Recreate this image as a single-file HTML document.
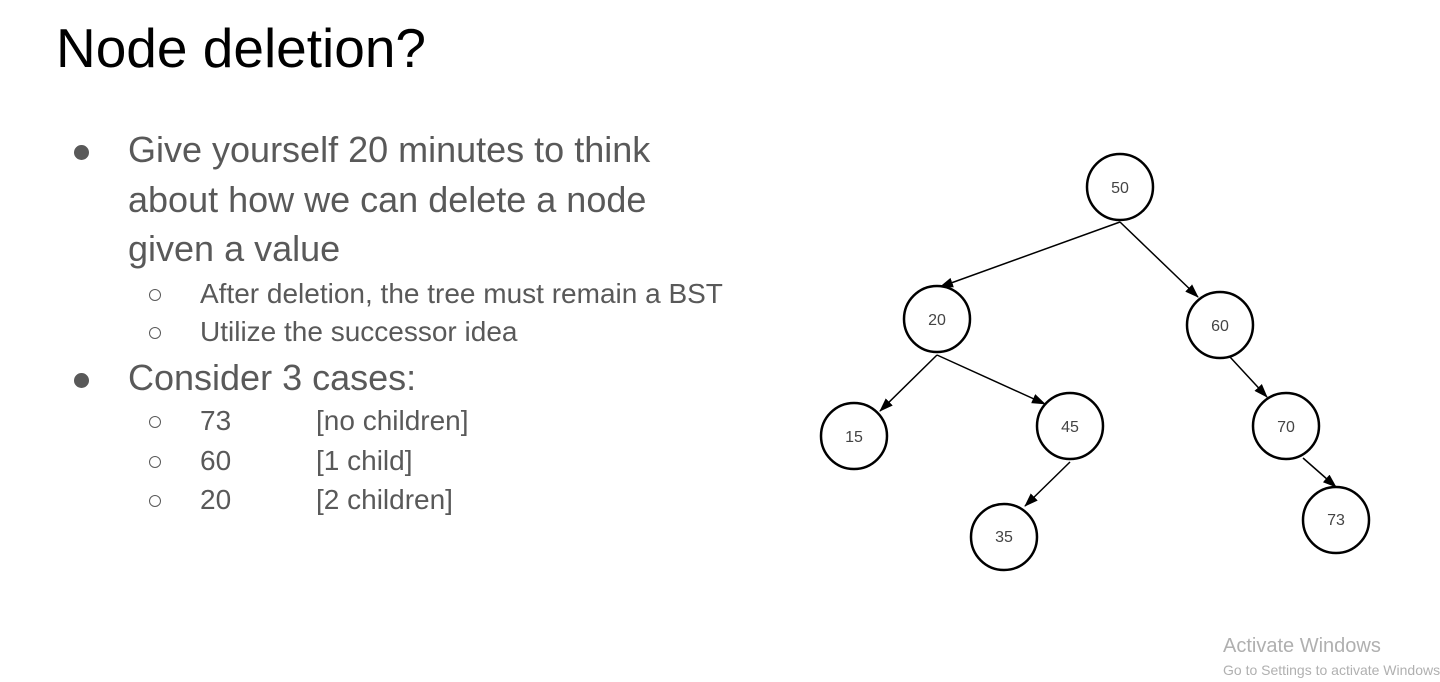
<!DOCTYPE html>
<html><head><style>
body{margin:0;width:1440px;height:682px;background:#fff;position:relative;overflow:hidden;font-family:"Liberation Sans",Arial,sans-serif}
.t{position:absolute;white-space:nowrap}
.h{left:56px;top:16px;font-size:55px;color:#000}
.b{font-size:36px;color:#595959}
.s{font-size:28px;color:#595959}
.dot{position:absolute;width:15px;height:15px;border-radius:50%;background:#595959}
.c{position:absolute;width:10px;height:10px;border-radius:50%;border:1.5px solid #595959}
</style></head><body>
<div class="t h">Node deletion?</div>
<div class="dot" style="left:74px;top:145px"></div>
<div class="t b" style="left:128px;top:129px">Give yourself 20 minutes to think</div>
<div class="t b" style="left:128px;top:179px">about how we can delete a node</div>
<div class="t b" style="left:128px;top:228px">given a value</div>
<div class="c" style="left:149px;top:289px"></div>
<div class="t s" style="left:200px;top:278px">After deletion, the tree must remain a BST</div>
<div class="c" style="left:149px;top:327px"></div>
<div class="t s" style="left:200px;top:316px">Utilize the successor idea</div>
<div class="dot" style="left:74px;top:373px"></div>
<div class="t b" style="left:128px;top:357px">Consider 3 cases:</div>
<div class="c" style="left:149px;top:416px"></div>
<div class="t s" style="left:200px;top:405px">73</div><div class="t s" style="left:316px;top:405px">[no children]</div>
<div class="c" style="left:149px;top:456px"></div>
<div class="t s" style="left:200px;top:445px">60</div><div class="t s" style="left:316px;top:445px">[1 child]</div>
<div class="c" style="left:149px;top:495px"></div>
<div class="t s" style="left:200px;top:484px">20</div><div class="t s" style="left:316px;top:484px">[2 children]</div>
<svg width="1440" height="682" style="position:absolute;left:0;top:0">
<defs><marker id="a" markerWidth="14" markerHeight="10" refX="13" refY="5" orient="auto" markerUnits="userSpaceOnUse"><path d="M0,0L14,5L0,10z" fill="#000"/></marker></defs>
<g stroke="#000" stroke-width="1.5" marker-end="url(#a)">
<line x1="1120" y1="222" x2="940" y2="287"/>
<line x1="1120" y1="222" x2="1198" y2="297"/>
<line x1="937" y1="355" x2="880" y2="411"/>
<line x1="937" y1="355" x2="1045" y2="404"/>
<line x1="1230" y1="357" x2="1267" y2="397"/>
<line x1="1070" y1="462" x2="1025" y2="506"/>
<line x1="1303" y1="458" x2="1336" y2="487"/>
</g>
<g fill="#fff" stroke="#000" stroke-width="2.5">
<circle cx="1120" cy="187" r="33"/><circle cx="937" cy="319" r="33"/><circle cx="1220" cy="325" r="33"/>
<circle cx="854" cy="436" r="33"/><circle cx="1070" cy="426" r="33"/><circle cx="1286" cy="426" r="33"/>
<circle cx="1004" cy="537" r="33"/><circle cx="1336" cy="520" r="33"/>
</g>
<g font-family="Liberation Sans,sans-serif" font-size="16" fill="#444" text-anchor="middle">
<text x="1120" y="193">50</text><text x="937" y="325">20</text><text x="1220" y="331">60</text>
<text x="854" y="442">15</text><text x="1070" y="432">45</text><text x="1286" y="432">70</text>
<text x="1004" y="542">35</text><text x="1336" y="525">73</text>
</g>
<text x="1223" y="652" font-family="Liberation Sans,sans-serif" font-size="20" fill="#b0b0b0">Activate Windows</text>
<text x="1223" y="675" font-family="Liberation Sans,sans-serif" font-size="14" fill="#b0b0b0">Go to Settings to activate Windows.</text>
</svg>
</body></html>
